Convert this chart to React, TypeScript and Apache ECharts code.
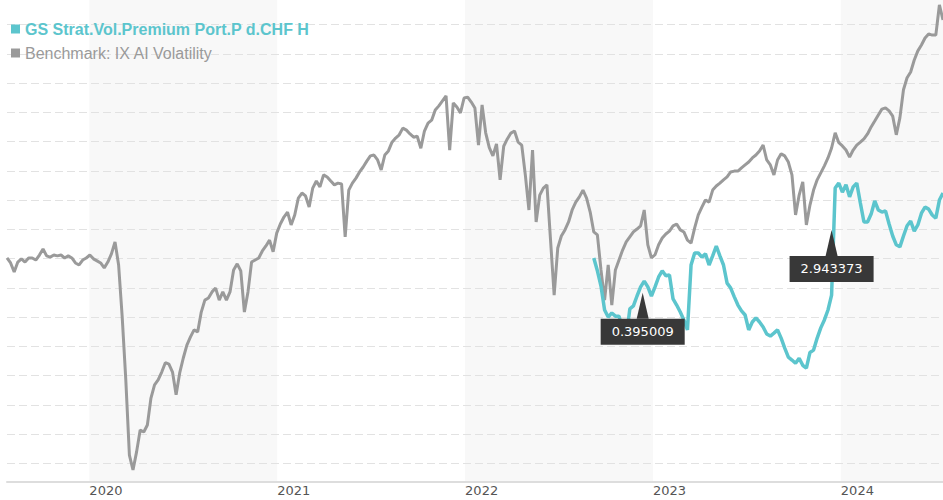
import React, { useEffect, useRef } from 'react';
import * as echarts from 'echarts';

// Series names (legend)
const fundName = 'GS Strat.Vol.Premium Port.P d.CHF H';
const benchName = 'Benchmark: IX AI Volatility';

// Benchmark: weekly observations starting at benchStart
const benchStart = '2019-07-25';
const benchValues = [
  170.2, 168.5, 165.4, 168.8, 169.9, 168.8, 170.2, 170.2, 169.5, 171.2,
  173.3, 170.9, 170.5, 171.2, 170.9, 171.2, 170.2, 170.9, 170.2, 168.5,
  167.8, 169.5, 170.2, 171.2, 169.9, 169.2, 168.5, 166.8, 168.8, 171.6,
  175.7, 167.8, 150.0, 128.5, 102.8, 97.7, 103.9, 111.4, 110.7, 113.1,
  122.3, 126.8, 128.5, 131.2, 134.4, 133.9, 131.2, 123.4, 130.9, 136.0,
  140.4, 143.2, 145.6, 144.9, 151.7, 155.8, 156.5, 158.6, 159.9, 155.8,
  158.6, 155.8, 158.6, 166.1, 168.2, 165.8, 151.7, 158.6, 168.8, 169.5,
  170.2, 172.6, 174.3, 176.3, 172.3, 178.7, 181.8, 184.2, 185.9, 181.5,
  184.9, 190.7, 192.4, 191.4, 187.6, 194.1, 196.5, 194.5, 198.6, 197.9,
  196.5, 195.2, 195.8, 195.5, 177.4, 193.4, 195.8, 197.5, 199.6, 201.3,
  203.3, 205.1, 205.4, 203.7, 200.3, 205.4, 206.8, 209.8, 211.2, 212.3,
  214.6, 213.9, 212.6, 211.5, 211.8, 207.7, 213.6, 216.3, 217.3, 220.8,
  222.2, 223.9, 225.6, 207.1, 223.2, 221.8, 219.8, 224.9, 225.2, 223.5,
  221.5, 208.8, 222.5, 213.0, 207.9, 205.1, 209.2, 196.9, 208.4, 210.9,
  212.9, 213.6, 209.8, 208.8, 198.6, 186.6, 207.1, 182.5, 191.7, 194.1,
  195.2, 176.3, 157.5, 173.6, 177.7, 179.8, 182.5, 186.6, 189.3, 191.1,
  193.4, 190.7, 185.9, 179.1, 178.1, 166.1, 155.8, 167.8, 154.1, 166.1,
  169.5, 172.9, 175.7, 177.4, 179.1, 180.1, 181.2, 186.6, 174.7, 170.2,
  171.3, 174.7, 177.0, 178.4, 179.4, 181.2, 181.8, 179.8, 179.1, 176.3,
  175.3, 180.5, 184.9, 187.6, 190.0, 189.3, 193.4, 194.8, 195.8, 196.9,
  197.9, 199.6, 199.9, 199.9, 201.0, 202.0, 203.0, 204.4, 205.4, 206.8,
  208.8, 203.7, 202.0, 198.6, 203.7, 205.8, 205.1, 203.0, 198.6, 184.9,
  191.7, 196.2, 181.5, 188.3, 193.4, 196.9, 199.3, 201.7, 204.4, 207.8,
  213.0, 209.6, 208.5, 207.1, 204.7, 207.1, 208.8, 209.8, 210.9, 212.6,
  215.0, 217.0, 219.1, 221.1, 221.5, 220.5, 218.7, 212.3, 218.1, 227.7,
  231.8, 233.8, 237.9, 241.0, 243.0, 245.4, 246.8, 246.4, 246.4, 256.7,
  251.6,
];

// Fund: weekly observations starting at fundStart
const fundStart = '2022-09-08';
const fundValues = [
  170.2, 165.8, 160.6, 152.4, 150.0, 151.4, 150.3, 150.3, 145.6, 142.8,
  152.8, 153.8, 157.2, 160.3, 162.3, 160.3, 157.2, 160.3, 163.7, 165.8,
  164.1, 164.4, 156.2, 154.1, 151.7, 149.0, 145.6, 167.8, 171.9, 171.9,
  170.5, 171.6, 167.8, 170.9, 174.3, 170.9, 167.8, 161.6, 159.9, 156.9,
  154.1, 152.1, 150.7, 145.6, 148.3, 149.7, 148.3, 146.6, 144.2, 143.5,
  144.5, 145.6, 142.8, 139.4, 136.3, 135.3, 134.2, 135.9, 133.5, 132.5,
  137.9, 138.7, 142.8, 146.3, 149.0, 152.4, 157.5, 194.1, 195.8, 192.7,
  195.2, 191.1, 194.5, 195.8, 189.0, 182.5, 182.5, 185.2, 189.7, 186.6,
  185.9, 186.3, 181.8, 177.7, 174.7, 174.0, 177.7, 181.2, 182.8, 179.4,
  181.5, 185.5, 187.6, 186.9, 184.9, 183.8, 190.0, 192.4,
];

// Annotated points on the fund line
const markerDates = ['2022-12-12', '2023-12-14'];
const markerValues = [158.3, 179.8];
const markerLabels = ['0.395009', '2.943373'];

// Value-axis range (index level), gridline step
const yMin = 93.6;
const yMax = 258.4;
const yStep = 10;

const DAY = 86400000;
function parseDate(s: string): number {
  const [y, m, d] = s.split('-').map(Number);
  return Date.UTC(y, m - 1, d);
}
function toYear(ms: number): number {
  const y = new Date(ms).getUTCFullYear();
  const s = Date.UTC(y, 0, 1);
  const e = Date.UTC(y + 1, 0, 1);
  return y + (ms - s) / (e - s);
}
function weekly(start: string, values: number[]): [number, number][] {
  const t0 = parseDate(start);
  return values.map((v, i) => [toYear(t0 + i * 7 * DAY), v]);
}

const TEAL = '#5cc5cd';
const GRAY = '#9a9a9a';

export default function App() {
  const ref = useRef<HTMLDivElement>(null);

  useEffect(() => {
    if (!ref.current) return;
    const chart = echarts.init(ref.current, undefined, { renderer: 'svg' });
    const benchData = weekly(benchStart, benchValues);
    const fundData = weekly(fundStart, fundValues);
    const xMin = benchData[0][0];
    const xMax = benchData[benchData.length - 1][0];

    chart.setOption({
      animation: false,
      backgroundColor: '#ffffff',
      grid: { left: 7, right: 0, top: 0, bottom: 18, containLabel: false },
      legend: {
        orient: 'vertical',
        left: 6,
        top: 16,
        icon: 'rect',
        itemWidth: 9,
        itemHeight: 9,
        itemGap: 8,
        selectedMode: false,
        textStyle: { fontFamily: 'Liberation Sans, Arial, sans-serif', fontSize: 16, lineHeight: 16 },
        data: [
          { name: fundName, textStyle: { color: TEAL, fontWeight: 'bold' } },
          { name: benchName, textStyle: { color: GRAY } },
        ],
      },
      xAxis: {
        type: 'value',
        min: xMin,
        max: xMax,
        minInterval: 1,
        maxInterval: 1,
        axisLine: { show: true, onZero: false, lineStyle: { color: '#dddddd', width: 2 } },
        axisTick: { show: false },
        axisLabel: {
          show: true,
          align: 'left',
          margin: 2,
          color: '#555555',
          fontFamily: 'DejaVu Sans, sans-serif',
          fontSize: 13,
          showMinLabel: false,
          showMaxLabel: false,
          formatter: (v: number) => String(Math.round(v)),
        },
        splitLine: { show: false },
        splitArea: { show: true, areaStyle: { color: ['rgba(255,255,255,0)', '#f8f8f8'] } },
      },
      yAxis: {
        type: 'value',
        min: yMin,
        max: yMax,
        minInterval: yStep,
        maxInterval: yStep,
        z: 1,
        axisLine: { show: false },
        axisTick: { show: false },
        axisLabel: { show: false },
        splitLine: {
          show: true,
          showMinLine: false,
          showMaxLine: false,
          lineStyle: { color: '#e2e2e2', width: 1, type: [8, 4] },
        },
      },
      series: [
        {
          name: benchName,
          type: 'line',
          data: benchData,
          showSymbol: false,
          symbol: 'none',
          color: GRAY,
          lineStyle: { color: GRAY, width: 3 },
          z: 2,
        },
        {
          name: fundName,
          type: 'line',
          data: fundData,
          showSymbol: false,
          symbol: 'none',
          color: TEAL,
          lineStyle: { color: TEAL, width: 3.5 },
          z: 3,
          markPoint: {
            silent: true,
            symbol: 'path://M6,0 L12,26 L0,26 Z',
            symbolSize: [12, 26],
            symbolOffset: [0, 13],
            itemStyle: { color: '#383838' },
            label: {
              show: true,
              position: 'bottom',
              distance: 0,
              formatter: '{b}',
              color: '#ffffff',
              backgroundColor: '#383838',
              fontFamily: 'DejaVu Sans, sans-serif',
              fontSize: 13,
              lineHeight: 16,
              padding: [5, 11, 5, 11],
            },
            data: markerDates.map((d, i) => ({
              name: markerLabels[i],
              coord: [toYear(parseDate(d)), markerValues[i]],
            })),
          },
        },
      ],
    });
    return () => chart.dispose();
  }, []);

  return (
    <div
      ref={ref}
      style={{ position: 'fixed', left: 0, top: 0, width: 943, height: 500, background: '#fff' }}
    />
  );
}
